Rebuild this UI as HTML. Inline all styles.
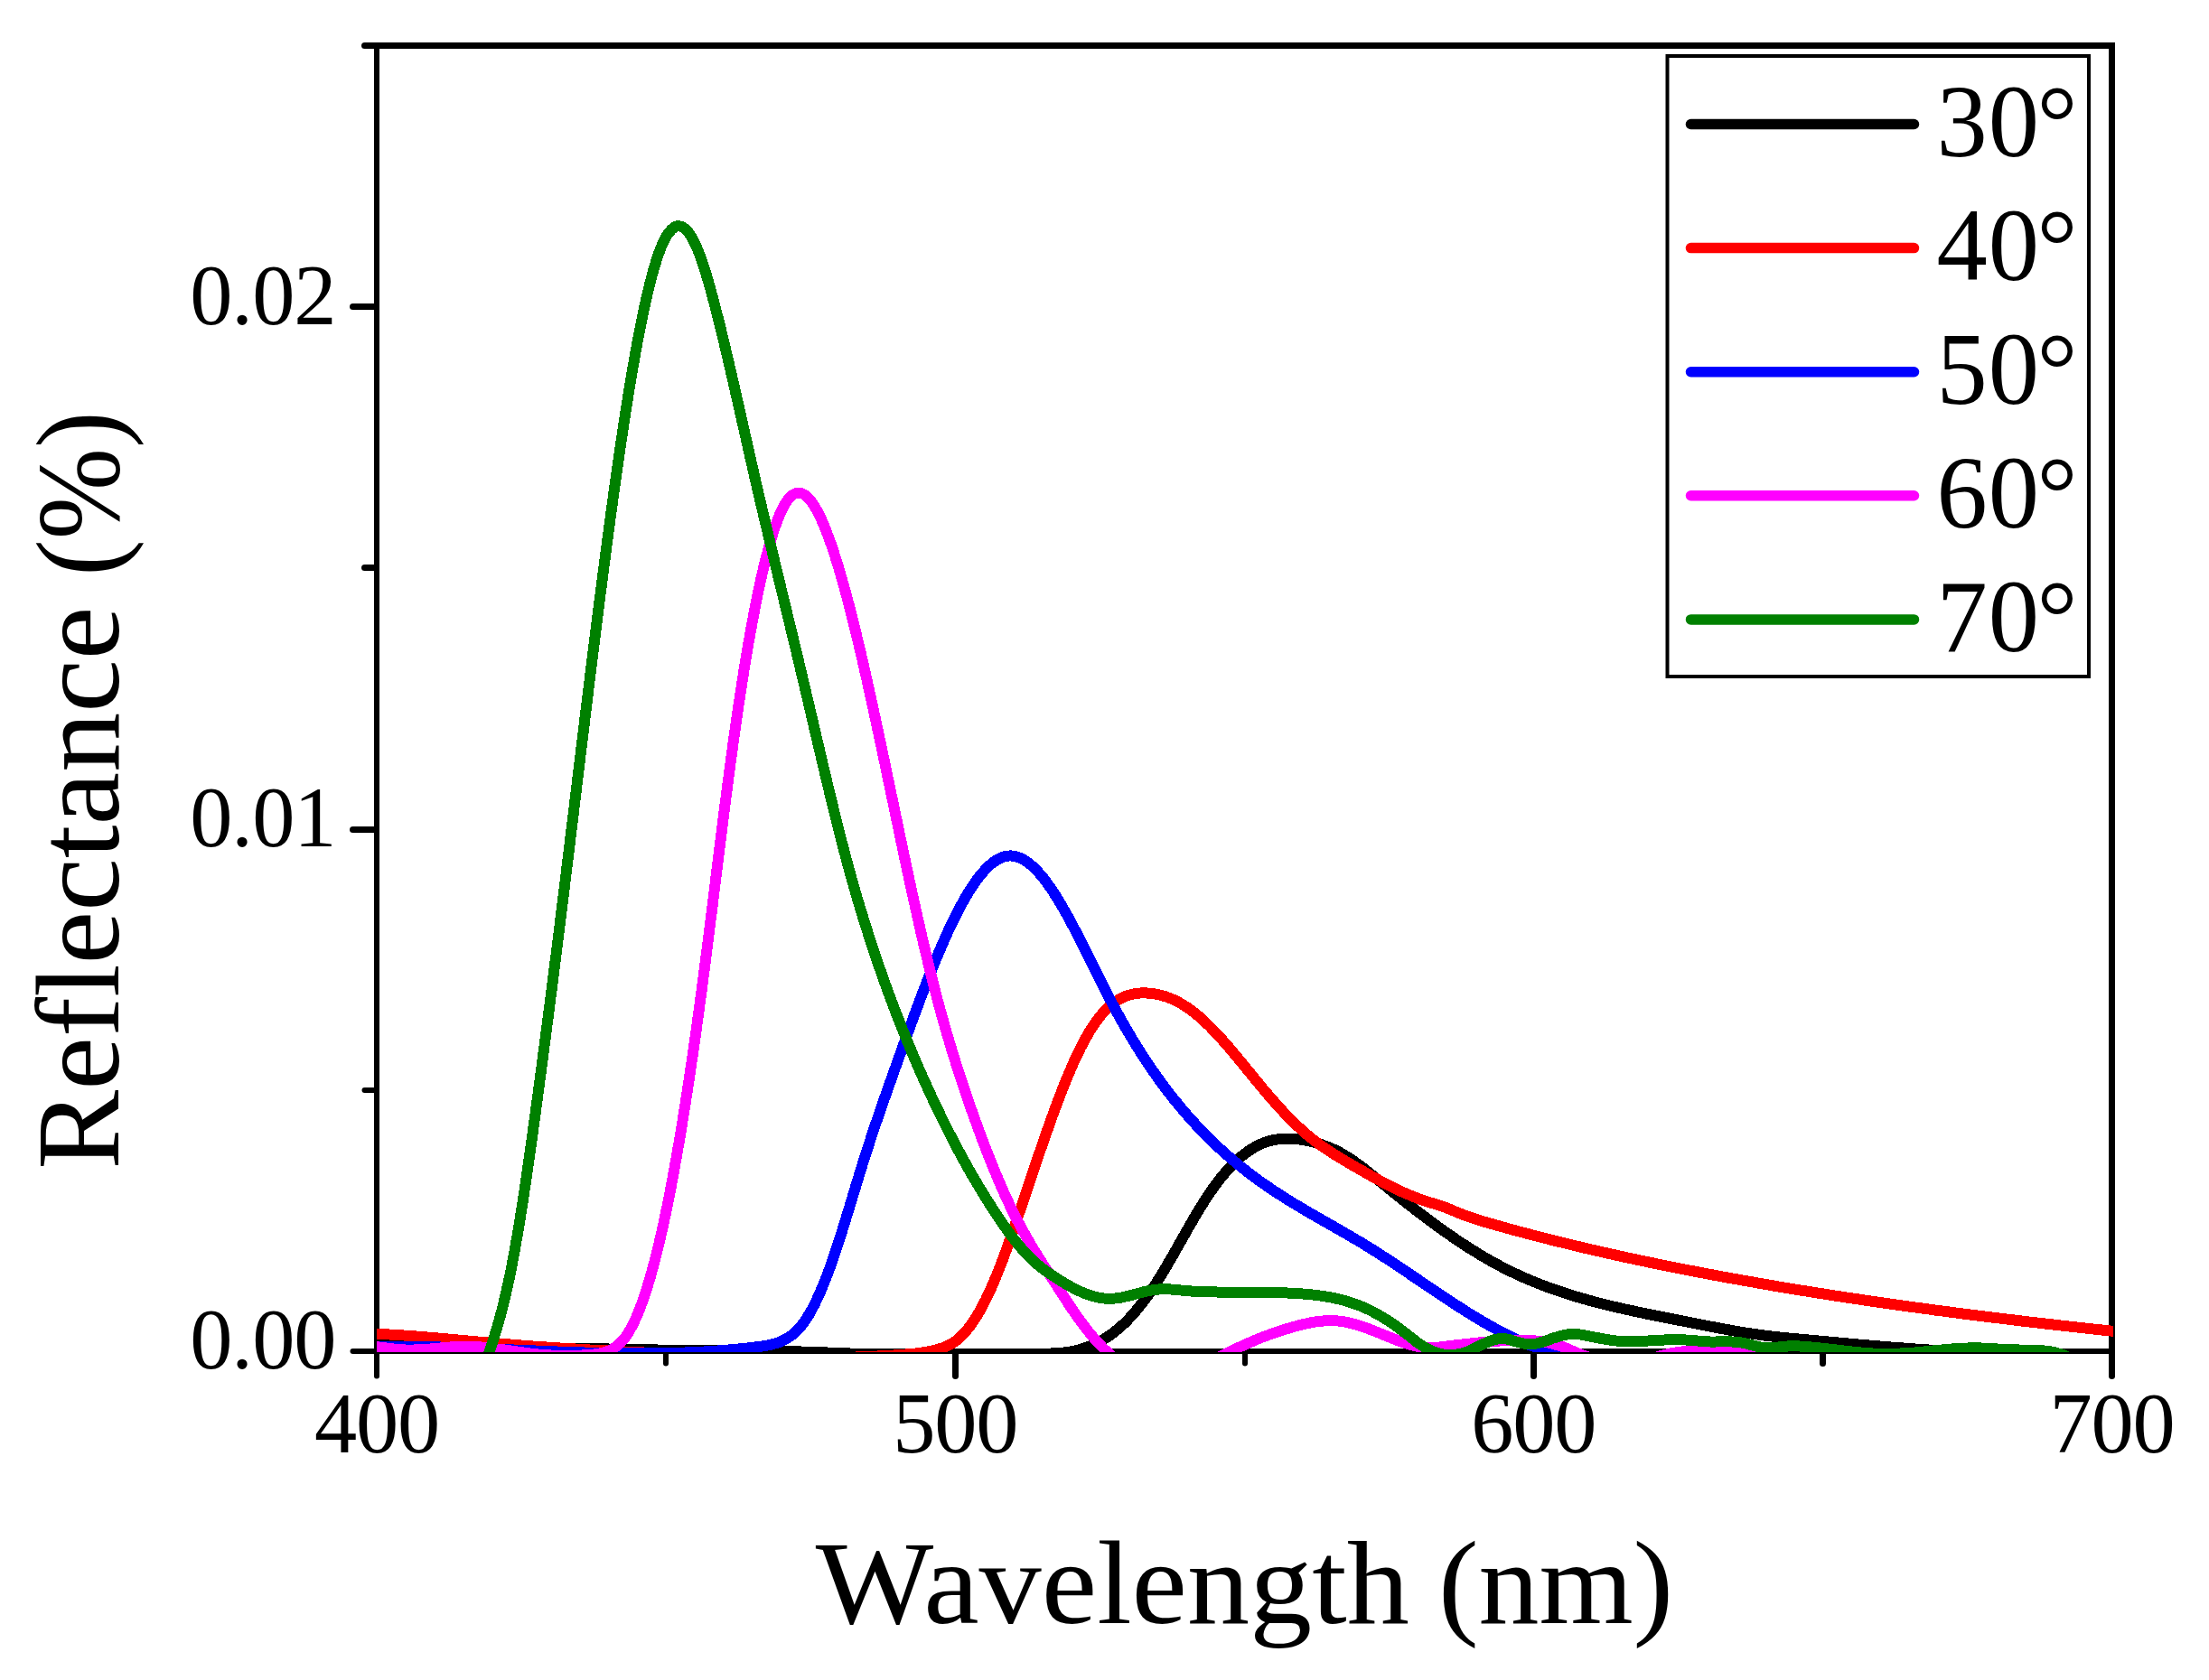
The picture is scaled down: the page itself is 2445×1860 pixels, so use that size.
<!DOCTYPE html>
<html lang="en"><head><meta charset="utf-8"><title>Reflectance vs Wavelength</title>
<style>html,body{margin:0;padding:0;background:#fff}body{width:2445px;height:1860px;overflow:hidden}svg{display:block}text{font-family:'Liberation Serif', 'DejaVu Serif', serif;fill:#000}</style>
</head><body>
<svg width="2445" height="1860" viewBox="0 0 2445 1860">
<rect x="0" y="0" width="2445" height="1860" fill="#fff"/>
<defs><clipPath id="plot"><rect x="417" y="40" width="1922" height="1457"/></clipPath></defs>
<g stroke="#000" fill="none" stroke-linecap="butt">
<line x1="417" y1="47" x2="417" y2="1499" stroke-width="6"/>
<line x1="2337.5" y1="47" x2="2337.5" y2="1499" stroke-width="7"/>
<line x1="414" y1="50.5" x2="2341" y2="50.5" stroke-width="7"/>
<line x1="414" y1="1496" x2="2341" y2="1496" stroke-width="6"/>
</g>
<g stroke="#000" fill="none" stroke-linecap="round">
<line x1="417.0" y1="1497" x2="417.0" y2="1523.5" stroke-width="6"/>
<line x1="1057.5" y1="1497" x2="1057.5" y2="1523.5" stroke-width="7"/>
<line x1="1697.5" y1="1497" x2="1697.5" y2="1523.5" stroke-width="7"/>
<line x1="2337.5" y1="1497" x2="2337.5" y2="1523.5" stroke-width="7"/>
<line x1="737.0" y1="1496" x2="737.0" y2="1509.5" stroke-width="6"/>
<line x1="1378.0" y1="1496" x2="1378.0" y2="1509.5" stroke-width="6"/>
<line x1="2017.5" y1="1496" x2="2017.5" y2="1509.5" stroke-width="7"/>
<line x1="415.5" y1="1496.0" x2="390.5" y2="1496.0" stroke-width="6"/>
<line x1="415.5" y1="918.5" x2="390.5" y2="918.5" stroke-width="7"/>
<line x1="415.5" y1="339.5" x2="390.5" y2="339.5" stroke-width="7"/>
<line x1="415.5" y1="1207.0" x2="403.5" y2="1207.0" stroke-width="6"/>
<line x1="415.5" y1="628.5" x2="403.5" y2="628.5" stroke-width="7"/>
<line x1="415.5" y1="50.5" x2="403.5" y2="50.5" stroke-width="7"/>
</g>
<g clip-path="url(#plot)" shape-rendering="crispEdges" fill="none" stroke-width="12.0" stroke-linejoin="round" stroke-linecap="butt">
<path stroke="#000000" d="M410.0 1478.6 L413.0 1478.6 L416.0 1478.7 L419.0 1478.8 L422.0 1479.0 L425.0 1479.1 L428.0 1479.2 L431.0 1479.4 L434.0 1479.6 L437.0 1479.7 L440.0 1479.9 L443.0 1480.1 L446.0 1480.3 L449.0 1480.6 L452.0 1480.8 L455.0 1481.0 L458.0 1481.2 L461.0 1481.5 L464.0 1481.7 L467.0 1482.0 L470.0 1482.3 L473.0 1482.5 L476.0 1482.8 L479.0 1483.1 L482.0 1483.4 L485.0 1483.6 L488.0 1483.9 L491.0 1484.2 L494.0 1484.5 L497.0 1484.8 L500.0 1485.1 L503.0 1485.4 L506.0 1485.7 L509.0 1486.0 L512.0 1486.2 L515.0 1486.5 L518.0 1486.8 L521.0 1487.1 L524.0 1487.4 L527.0 1487.7 L530.0 1487.9 L533.0 1488.2 L536.0 1488.4 L539.0 1488.7 L542.0 1489.0 L545.0 1489.2 L548.0 1489.4 L551.0 1489.7 L554.0 1489.9 L557.0 1490.1 L560.0 1490.3 L563.0 1490.5 L566.0 1490.7 L569.0 1490.8 L572.0 1491.0 L575.0 1491.2 L578.0 1491.3 L581.0 1491.5 L584.0 1491.6 L587.0 1491.7 L590.0 1491.8 L593.0 1491.9 L596.0 1492.1 L599.0 1492.2 L602.0 1492.2 L605.0 1492.3 L608.0 1492.4 L611.0 1492.5 L614.0 1492.6 L617.0 1492.6 L620.0 1492.7 L623.0 1492.8 L626.0 1492.8 L629.0 1492.9 L632.0 1492.9 L635.0 1493.0 L638.0 1493.0 L641.0 1493.1 L644.0 1493.1 L647.0 1493.2 L650.0 1493.2 L653.0 1493.2 L656.0 1493.3 L659.0 1493.3 L662.0 1493.3 L665.0 1493.4 L668.0 1493.4 L671.0 1493.4 L674.0 1493.5 L677.0 1493.5 L680.0 1493.6 L683.0 1493.6 L686.0 1493.6 L689.0 1493.7 L692.0 1493.7 L695.0 1493.8 L698.0 1493.8 L701.0 1493.9 L704.0 1494.0 L707.0 1494.0 L710.0 1494.1 L713.0 1494.2 L716.0 1494.2 L719.0 1494.3 L722.0 1494.4 L725.0 1494.4 L728.0 1494.5 L731.0 1494.6 L734.0 1494.7 L737.0 1494.7 L740.0 1494.8 L743.0 1494.9 L746.0 1494.9 L749.0 1495.0 L752.0 1495.0 L755.0 1495.1 L758.0 1495.1 L761.0 1495.2 L764.0 1495.2 L767.0 1495.3 L770.0 1495.3 L773.0 1495.3 L776.0 1495.3 L779.0 1495.4 L782.0 1495.4 L785.0 1495.4 L788.0 1495.4 L791.0 1495.4 L794.0 1495.4 L797.0 1495.4 L800.0 1495.4 L803.0 1495.5 L806.0 1495.5 L809.0 1495.5 L812.0 1495.5 L815.0 1495.5 L818.0 1495.5 L821.0 1495.5 L824.0 1495.5 L827.0 1495.5 L830.0 1495.5 L833.0 1495.6 L836.0 1495.6 L839.0 1495.6 L842.0 1495.6 L845.0 1495.7 L848.0 1495.7 L851.0 1495.7 L854.0 1495.8 L857.0 1495.8 L860.0 1495.8 L863.0 1495.9 L866.0 1495.9 L869.0 1496.0 L872.0 1496.1 L875.0 1496.1 L878.0 1496.2 L881.0 1496.3 L884.0 1496.4 L887.0 1496.5 L890.0 1496.6 L893.0 1496.7 L896.0 1496.8 L899.0 1496.9 L902.0 1497.0 L905.0 1497.1 L908.0 1497.2 L911.0 1497.3 L914.0 1497.4 L917.0 1497.6 L920.0 1497.7 L923.0 1497.8 L926.0 1497.9 L929.0 1498.1 L932.0 1498.2 L935.0 1498.3 L938.0 1498.4 L941.0 1498.5 L944.0 1498.7 L947.0 1498.8 L950.0 1498.9 L953.0 1499.0 L956.0 1499.1 L959.0 1499.2 L962.0 1499.3 L965.0 1499.4 L968.0 1499.4 L971.0 1499.5 L974.0 1499.6 L977.0 1499.7 L980.0 1499.7 L983.0 1499.8 L986.0 1499.8 L989.0 1499.9 L992.0 1499.9 L995.0 1500.0 L998.0 1500.0 L1001.0 1500.1 L1004.0 1500.1 L1007.0 1500.1 L1010.0 1500.2 L1013.0 1500.2 L1016.0 1500.2 L1019.0 1500.2 L1022.0 1500.2 L1025.0 1500.2 L1028.0 1500.2 L1031.0 1500.2 L1034.0 1500.2 L1037.0 1500.2 L1040.0 1500.2 L1043.0 1500.2 L1046.0 1500.2 L1049.0 1500.2 L1052.0 1500.2 L1055.0 1500.2 L1058.0 1500.1 L1061.0 1500.1 L1064.0 1500.1 L1067.0 1500.1 L1070.0 1500.0 L1073.0 1500.0 L1076.0 1500.0 L1079.0 1499.9 L1082.0 1499.9 L1085.0 1499.9 L1088.0 1499.8 L1091.0 1499.8 L1094.0 1499.7 L1097.0 1499.7 L1100.0 1499.7 L1103.0 1499.6 L1106.0 1499.6 L1109.0 1499.5 L1112.0 1499.5 L1115.0 1499.4 L1118.0 1499.4 L1121.0 1499.3 L1124.0 1499.3 L1127.0 1499.2 L1130.0 1499.2 L1133.0 1499.1 L1136.0 1499.1 L1139.0 1499.0 L1142.0 1499.0 L1145.0 1498.9 L1148.0 1498.9 L1151.0 1498.8 L1154.0 1498.8 L1157.0 1498.7 L1160.0 1498.6 L1163.0 1498.5 L1166.0 1498.4 L1169.0 1498.2 L1172.0 1498.0 L1175.0 1497.8 L1178.0 1497.4 L1181.0 1497.0 L1184.0 1496.6 L1187.0 1496.0 L1190.0 1495.4 L1193.0 1494.7 L1196.0 1493.8 L1199.0 1492.9 L1202.0 1491.9 L1205.0 1490.8 L1208.0 1489.6 L1211.0 1488.3 L1214.0 1486.9 L1217.0 1485.4 L1220.0 1483.7 L1223.0 1481.9 L1226.0 1480.0 L1229.0 1478.0 L1232.0 1475.8 L1235.0 1473.4 L1238.0 1471.0 L1241.0 1468.3 L1244.0 1465.6 L1247.0 1462.6 L1250.0 1459.5 L1253.0 1456.2 L1256.0 1452.8 L1259.0 1449.3 L1262.0 1445.5 L1265.0 1441.7 L1268.0 1437.7 L1271.0 1433.5 L1274.0 1429.2 L1277.0 1424.7 L1280.0 1420.1 L1283.0 1415.4 L1286.0 1410.5 L1289.0 1405.5 L1292.0 1400.4 L1295.0 1395.3 L1298.0 1390.1 L1301.0 1384.8 L1304.0 1379.5 L1307.0 1374.2 L1310.0 1368.9 L1313.0 1363.6 L1316.0 1358.3 L1319.0 1353.1 L1322.0 1347.9 L1325.0 1342.9 L1328.0 1337.9 L1331.0 1333.1 L1334.0 1328.3 L1337.0 1323.8 L1340.0 1319.4 L1343.0 1315.1 L1346.0 1311.0 L1349.0 1307.0 L1352.0 1303.2 L1355.0 1299.6 L1358.0 1296.1 L1361.0 1292.8 L1364.0 1289.7 L1367.0 1286.7 L1370.0 1283.9 L1373.0 1281.2 L1376.0 1278.7 L1379.0 1276.4 L1382.0 1274.3 L1385.0 1272.3 L1388.0 1270.5 L1391.0 1268.8 L1394.0 1267.4 L1397.0 1266.0 L1400.0 1264.9 L1403.0 1263.9 L1406.0 1263.0 L1409.0 1262.3 L1412.0 1261.7 L1415.0 1261.2 L1418.0 1260.9 L1421.0 1260.7 L1424.0 1260.6 L1427.0 1260.6 L1430.0 1260.7 L1433.0 1260.9 L1436.0 1261.2 L1439.0 1261.6 L1442.0 1262.1 L1445.0 1262.6 L1448.0 1263.2 L1451.0 1263.9 L1454.0 1264.7 L1457.0 1265.5 L1460.0 1266.4 L1463.0 1267.3 L1466.0 1268.4 L1469.0 1269.5 L1472.0 1270.7 L1475.0 1272.0 L1478.0 1273.4 L1481.0 1274.9 L1484.0 1276.5 L1487.0 1278.2 L1490.0 1280.0 L1493.0 1281.9 L1496.0 1283.9 L1499.0 1286.0 L1502.0 1288.1 L1505.0 1290.3 L1508.0 1292.6 L1511.0 1294.9 L1514.0 1297.2 L1517.0 1299.6 L1520.0 1302.0 L1523.0 1304.5 L1526.0 1306.9 L1529.0 1309.3 L1532.0 1311.8 L1535.0 1314.2 L1538.0 1316.7 L1541.0 1319.1 L1544.0 1321.5 L1547.0 1323.9 L1550.0 1326.3 L1553.0 1328.7 L1556.0 1331.1 L1559.0 1333.4 L1562.0 1335.8 L1565.0 1338.1 L1568.0 1340.4 L1571.0 1342.7 L1574.0 1345.0 L1577.0 1347.3 L1580.0 1349.5 L1583.0 1351.8 L1586.0 1354.0 L1589.0 1356.2 L1592.0 1358.4 L1595.0 1360.5 L1598.0 1362.7 L1601.0 1364.8 L1604.0 1366.9 L1607.0 1369.0 L1610.0 1371.0 L1613.0 1373.1 L1616.0 1375.1 L1619.0 1377.1 L1622.0 1379.0 L1625.0 1381.0 L1628.0 1382.9 L1631.0 1384.8 L1634.0 1386.6 L1637.0 1388.5 L1640.0 1390.3 L1643.0 1392.0 L1646.0 1393.8 L1649.0 1395.5 L1652.0 1397.2 L1655.0 1398.8 L1658.0 1400.4 L1661.0 1402.0 L1664.0 1403.6 L1667.0 1405.1 L1670.0 1406.6 L1673.0 1408.1 L1676.0 1409.5 L1679.0 1410.9 L1682.0 1412.3 L1685.0 1413.7 L1688.0 1415.0 L1691.0 1416.3 L1694.0 1417.6 L1697.0 1418.8 L1700.0 1420.0 L1703.0 1421.2 L1706.0 1422.4 L1709.0 1423.6 L1712.0 1424.7 L1715.0 1425.8 L1718.0 1426.9 L1721.0 1427.9 L1724.0 1429.0 L1727.0 1430.0 L1730.0 1431.0 L1733.0 1432.0 L1736.0 1432.9 L1739.0 1433.9 L1742.0 1434.8 L1745.0 1435.7 L1748.0 1436.6 L1751.0 1437.5 L1754.0 1438.3 L1757.0 1439.2 L1760.0 1440.0 L1763.0 1440.8 L1766.0 1441.6 L1769.0 1442.4 L1772.0 1443.2 L1775.0 1443.9 L1778.0 1444.7 L1781.0 1445.4 L1784.0 1446.1 L1787.0 1446.8 L1790.0 1447.5 L1793.0 1448.2 L1796.0 1448.9 L1799.0 1449.6 L1802.0 1450.2 L1805.0 1450.9 L1808.0 1451.5 L1811.0 1452.2 L1814.0 1452.8 L1817.0 1453.4 L1820.0 1454.1 L1823.0 1454.7 L1826.0 1455.3 L1829.0 1455.9 L1832.0 1456.5 L1835.0 1457.1 L1838.0 1457.7 L1841.0 1458.3 L1844.0 1458.9 L1847.0 1459.5 L1850.0 1460.1 L1853.0 1460.7 L1856.0 1461.3 L1859.0 1461.9 L1862.0 1462.4 L1865.0 1463.0 L1868.0 1463.6 L1871.0 1464.2 L1874.0 1464.8 L1877.0 1465.4 L1880.0 1466.0 L1883.0 1466.6 L1886.0 1467.2 L1889.0 1467.8 L1892.0 1468.4 L1895.0 1469.0 L1898.0 1469.5 L1901.0 1470.1 L1904.0 1470.7 L1907.0 1471.2 L1910.0 1471.8 L1913.0 1472.3 L1916.0 1472.9 L1919.0 1473.4 L1922.0 1473.9 L1925.0 1474.4 L1928.0 1474.9 L1931.0 1475.4 L1934.0 1475.9 L1937.0 1476.3 L1940.0 1476.8 L1943.0 1477.2 L1946.0 1477.6 L1949.0 1478.0 L1952.0 1478.4 L1955.0 1478.8 L1958.0 1479.1 L1961.0 1479.5 L1964.0 1479.8 L1967.0 1480.2 L1970.0 1480.5 L1973.0 1480.8 L1976.0 1481.1 L1979.0 1481.4 L1982.0 1481.7 L1985.0 1482.0 L1988.0 1482.2 L1991.0 1482.5 L1994.0 1482.8 L1997.0 1483.1 L2000.0 1483.3 L2003.0 1483.6 L2006.0 1483.9 L2009.0 1484.2 L2012.0 1484.4 L2015.0 1484.7 L2018.0 1485.0 L2021.0 1485.2 L2024.0 1485.5 L2027.0 1485.8 L2030.0 1486.1 L2033.0 1486.3 L2036.0 1486.6 L2039.0 1486.9 L2042.0 1487.1 L2045.0 1487.4 L2048.0 1487.7 L2051.0 1487.9 L2054.0 1488.2 L2057.0 1488.5 L2060.0 1488.7 L2063.0 1489.0 L2066.0 1489.2 L2069.0 1489.5 L2072.0 1489.7 L2075.0 1490.0 L2078.0 1490.2 L2081.0 1490.5 L2084.0 1490.7 L2087.0 1491.0 L2090.0 1491.2 L2093.0 1491.5 L2096.0 1491.7 L2099.0 1491.9 L2102.0 1492.2 L2105.0 1492.4 L2108.0 1492.6 L2111.0 1492.8 L2114.0 1493.1 L2117.0 1493.3 L2120.0 1493.5 L2123.0 1493.7 L2126.0 1493.9 L2129.0 1494.1 L2132.0 1494.3 L2135.0 1494.5 L2138.0 1494.7 L2141.0 1494.9 L2144.0 1495.1 L2147.0 1495.3 L2150.0 1495.5 L2153.0 1495.6 L2156.0 1495.8 L2159.0 1496.0 L2162.0 1496.1 L2165.0 1496.3 L2168.0 1496.4 L2171.0 1496.6 L2174.0 1496.7 L2177.0 1496.9 L2180.0 1497.0 L2183.0 1497.1 L2186.0 1497.3 L2189.0 1497.4 L2192.0 1497.5 L2195.0 1497.6 L2198.0 1497.7 L2201.0 1497.8 L2204.0 1497.9 L2207.0 1498.0 L2210.0 1498.1 L2213.0 1498.2 L2216.0 1498.2 L2219.0 1498.3 L2222.0 1498.4 L2225.0 1498.4 L2228.0 1498.5 L2231.0 1498.6 L2234.0 1498.6 L2237.0 1498.7 L2240.0 1498.7 L2243.0 1498.7 L2246.0 1498.8 L2249.0 1498.8 L2252.0 1498.9 L2255.0 1498.9 L2258.0 1498.9 L2261.0 1499.0 L2264.0 1499.0 L2267.0 1499.0 L2270.0 1499.0 L2273.0 1499.1 L2276.0 1499.1 L2279.0 1499.1 L2282.0 1499.1 L2285.0 1499.2 L2288.0 1499.2 L2291.0 1499.2 L2294.0 1499.2 L2297.0 1499.3 L2300.0 1499.3 L2303.0 1499.3 L2306.0 1499.4 L2309.0 1499.4 L2312.0 1499.4 L2315.0 1499.5 L2318.0 1499.5 L2321.0 1499.6 L2324.0 1499.6 L2327.0 1499.7 L2330.0 1499.7 L2333.0 1499.8 L2336.0 1499.8 L2339.0 1499.9 L2342.0 1499.9 L2345.0 1500.0"/>
<path stroke="#ff0000" d="M410.0 1476.5 L413.0 1476.6 L416.0 1476.7 L419.0 1476.9 L422.0 1477.0 L425.0 1477.2 L428.0 1477.3 L431.0 1477.5 L434.0 1477.7 L437.0 1477.9 L440.0 1478.0 L443.0 1478.2 L446.0 1478.4 L449.0 1478.7 L452.0 1478.9 L455.0 1479.1 L458.0 1479.3 L461.0 1479.5 L464.0 1479.8 L467.0 1480.0 L470.0 1480.3 L473.0 1480.5 L476.0 1480.8 L479.0 1481.0 L482.0 1481.3 L485.0 1481.5 L488.0 1481.8 L491.0 1482.1 L494.0 1482.3 L497.0 1482.6 L500.0 1482.9 L503.0 1483.1 L506.0 1483.4 L509.0 1483.7 L512.0 1483.9 L515.0 1484.2 L518.0 1484.5 L521.0 1484.8 L524.0 1485.0 L527.0 1485.3 L530.0 1485.6 L533.0 1485.8 L536.0 1486.1 L539.0 1486.4 L542.0 1486.6 L545.0 1486.9 L548.0 1487.2 L551.0 1487.4 L554.0 1487.7 L557.0 1487.9 L560.0 1488.2 L563.0 1488.4 L566.0 1488.6 L569.0 1488.9 L572.0 1489.1 L575.0 1489.3 L578.0 1489.6 L581.0 1489.8 L584.0 1490.0 L587.0 1490.2 L590.0 1490.5 L593.0 1490.7 L596.0 1490.9 L599.0 1491.1 L602.0 1491.3 L605.0 1491.5 L608.0 1491.7 L611.0 1491.9 L614.0 1492.1 L617.0 1492.3 L620.0 1492.5 L623.0 1492.7 L626.0 1492.9 L629.0 1493.1 L632.0 1493.2 L635.0 1493.4 L638.0 1493.6 L641.0 1493.8 L644.0 1493.9 L647.0 1494.1 L650.0 1494.3 L653.0 1494.5 L656.0 1494.6 L659.0 1494.8 L662.0 1495.0 L665.0 1495.1 L668.0 1495.3 L671.0 1495.4 L674.0 1495.6 L677.0 1495.7 L680.0 1495.9 L683.0 1496.0 L686.0 1496.2 L689.0 1496.3 L692.0 1496.5 L695.0 1496.6 L698.0 1496.8 L701.0 1496.9 L704.0 1497.1 L707.0 1497.2 L710.0 1497.4 L713.0 1497.5 L716.0 1497.6 L719.0 1497.8 L722.0 1497.9 L725.0 1498.0 L728.0 1498.2 L731.0 1498.3 L734.0 1498.4 L737.0 1498.6 L740.0 1498.7 L743.0 1498.8 L746.0 1499.0 L749.0 1499.1 L752.0 1499.2 L755.0 1499.3 L758.0 1499.5 L761.0 1499.6 L764.0 1499.7 L767.0 1499.8 L770.0 1500.0 L773.0 1500.1 L776.0 1500.2 L779.0 1500.3 L782.0 1500.5 L785.0 1500.6 L788.0 1500.7 L791.0 1500.8 L794.0 1500.9 L797.0 1501.1 L800.0 1501.2 L803.0 1501.3 L806.0 1501.4 L809.0 1501.5 L812.0 1501.6 L815.0 1501.7 L818.0 1501.8 L821.0 1501.9 L824.0 1502.0 L827.0 1502.1 L830.0 1502.2 L833.0 1502.3 L836.0 1502.4 L839.0 1502.4 L842.0 1502.5 L845.0 1502.6 L848.0 1502.7 L851.0 1502.7 L854.0 1502.8 L857.0 1502.9 L860.0 1502.9 L863.0 1503.0 L866.0 1503.0 L869.0 1503.1 L872.0 1503.1 L875.0 1503.2 L878.0 1503.2 L881.0 1503.2 L884.0 1503.2 L887.0 1503.3 L890.0 1503.3 L893.0 1503.3 L896.0 1503.3 L899.0 1503.3 L902.0 1503.3 L905.0 1503.3 L908.0 1503.3 L911.0 1503.2 L914.0 1503.2 L917.0 1503.2 L920.0 1503.1 L923.0 1503.1 L926.0 1503.1 L929.0 1503.0 L932.0 1502.9 L935.0 1502.9 L938.0 1502.8 L941.0 1502.7 L944.0 1502.6 L947.0 1502.5 L950.0 1502.4 L953.0 1502.3 L956.0 1502.2 L959.0 1502.1 L962.0 1502.0 L965.0 1501.8 L968.0 1501.7 L971.0 1501.5 L974.0 1501.4 L977.0 1501.2 L980.0 1501.0 L983.0 1500.9 L986.0 1500.7 L989.0 1500.5 L992.0 1500.3 L995.0 1500.0 L998.0 1499.8 L1001.0 1499.6 L1004.0 1499.3 L1007.0 1499.1 L1010.0 1498.8 L1013.0 1498.5 L1016.0 1498.1 L1019.0 1497.8 L1022.0 1497.3 L1025.0 1496.8 L1028.0 1496.3 L1031.0 1495.7 L1034.0 1495.0 L1037.0 1494.2 L1040.0 1493.3 L1043.0 1492.4 L1046.0 1491.2 L1049.0 1489.9 L1052.0 1488.4 L1055.0 1486.6 L1058.0 1484.5 L1061.0 1482.1 L1064.0 1479.3 L1067.0 1476.2 L1070.0 1472.8 L1073.0 1469.0 L1076.0 1464.9 L1079.0 1460.4 L1082.0 1455.6 L1085.0 1450.4 L1088.0 1444.9 L1091.0 1439.0 L1094.0 1432.8 L1097.0 1426.2 L1100.0 1419.3 L1103.0 1412.1 L1106.0 1404.6 L1109.0 1396.8 L1112.0 1388.8 L1115.0 1380.5 L1118.0 1372.1 L1121.0 1363.5 L1124.0 1354.8 L1127.0 1346.0 L1130.0 1337.2 L1133.0 1328.3 L1136.0 1319.4 L1139.0 1310.4 L1142.0 1301.5 L1145.0 1292.6 L1148.0 1283.8 L1151.0 1275.0 L1154.0 1266.2 L1157.0 1257.6 L1160.0 1249.1 L1163.0 1240.6 L1166.0 1232.4 L1169.0 1224.2 L1172.0 1216.2 L1175.0 1208.4 L1178.0 1200.8 L1181.0 1193.4 L1184.0 1186.3 L1187.0 1179.3 L1190.0 1172.7 L1193.0 1166.3 L1196.0 1160.1 L1199.0 1154.3 L1202.0 1148.8 L1205.0 1143.6 L1208.0 1138.8 L1211.0 1134.2 L1214.0 1129.9 L1217.0 1126.0 L1220.0 1122.3 L1223.0 1119.0 L1226.0 1116.0 L1229.0 1113.3 L1232.0 1110.9 L1235.0 1108.7 L1238.0 1106.8 L1241.0 1105.1 L1244.0 1103.7 L1247.0 1102.5 L1250.0 1101.6 L1253.0 1100.8 L1256.0 1100.2 L1259.0 1099.8 L1262.0 1099.5 L1265.0 1099.4 L1268.0 1099.4 L1271.0 1099.6 L1274.0 1099.8 L1277.0 1100.2 L1280.0 1100.7 L1283.0 1101.4 L1286.0 1102.1 L1289.0 1103.0 L1292.0 1104.0 L1295.0 1105.2 L1298.0 1106.4 L1301.0 1107.8 L1304.0 1109.3 L1307.0 1111.0 L1310.0 1112.8 L1313.0 1114.7 L1316.0 1116.7 L1319.0 1118.9 L1322.0 1121.2 L1325.0 1123.6 L1328.0 1126.2 L1331.0 1128.8 L1334.0 1131.6 L1337.0 1134.5 L1340.0 1137.5 L1343.0 1140.6 L1346.0 1143.8 L1349.0 1147.0 L1352.0 1150.3 L1355.0 1153.7 L1358.0 1157.1 L1361.0 1160.6 L1364.0 1164.2 L1367.0 1167.8 L1370.0 1171.4 L1373.0 1175.0 L1376.0 1178.7 L1379.0 1182.3 L1382.0 1186.0 L1385.0 1189.7 L1388.0 1193.4 L1391.0 1197.0 L1394.0 1200.7 L1397.0 1204.3 L1400.0 1207.9 L1403.0 1211.4 L1406.0 1214.9 L1409.0 1218.3 L1412.0 1221.7 L1415.0 1225.1 L1418.0 1228.3 L1421.0 1231.6 L1424.0 1234.7 L1427.0 1237.8 L1430.0 1240.8 L1433.0 1243.7 L1436.0 1246.6 L1439.0 1249.4 L1442.0 1252.1 L1445.0 1254.8 L1448.0 1257.3 L1451.0 1259.8 L1454.0 1262.2 L1457.0 1264.5 L1460.0 1266.7 L1463.0 1268.8 L1466.0 1270.9 L1469.0 1272.9 L1472.0 1274.9 L1475.0 1276.8 L1478.0 1278.7 L1481.0 1280.6 L1484.0 1282.4 L1487.0 1284.2 L1490.0 1286.0 L1493.0 1287.7 L1496.0 1289.5 L1499.0 1291.2 L1502.0 1293.0 L1505.0 1294.7 L1508.0 1296.4 L1511.0 1298.1 L1514.0 1299.8 L1517.0 1301.5 L1520.0 1303.2 L1523.0 1304.8 L1526.0 1306.5 L1529.0 1308.1 L1532.0 1309.7 L1535.0 1311.2 L1538.0 1312.8 L1541.0 1314.3 L1544.0 1315.7 L1547.0 1317.2 L1550.0 1318.6 L1553.0 1320.0 L1556.0 1321.3 L1559.0 1322.6 L1562.0 1323.9 L1565.0 1325.1 L1568.0 1326.3 L1571.0 1327.4 L1574.0 1328.4 L1577.0 1329.5 L1580.0 1330.4 L1583.0 1331.4 L1586.0 1332.3 L1589.0 1333.2 L1592.0 1334.1 L1595.0 1335.1 L1598.0 1336.1 L1601.0 1337.3 L1604.0 1338.5 L1607.0 1339.7 L1610.0 1341.0 L1613.0 1342.2 L1616.0 1343.5 L1619.0 1344.7 L1622.0 1345.8 L1625.0 1346.9 L1628.0 1348.0 L1631.0 1349.0 L1634.0 1350.0 L1637.0 1350.9 L1640.0 1351.8 L1643.0 1352.7 L1646.0 1353.6 L1649.0 1354.5 L1652.0 1355.3 L1655.0 1356.2 L1658.0 1357.0 L1661.0 1357.9 L1664.0 1358.7 L1667.0 1359.5 L1670.0 1360.4 L1673.0 1361.2 L1676.0 1362.0 L1679.0 1362.8 L1682.0 1363.6 L1685.0 1364.4 L1688.0 1365.2 L1691.0 1366.0 L1694.0 1366.8 L1697.0 1367.6 L1700.0 1368.4 L1703.0 1369.1 L1706.0 1369.9 L1709.0 1370.7 L1712.0 1371.4 L1715.0 1372.2 L1718.0 1373.0 L1721.0 1373.7 L1724.0 1374.5 L1727.0 1375.2 L1730.0 1375.9 L1733.0 1376.7 L1736.0 1377.4 L1739.0 1378.1 L1742.0 1378.9 L1745.0 1379.6 L1748.0 1380.3 L1751.0 1381.0 L1754.0 1381.7 L1757.0 1382.4 L1760.0 1383.1 L1763.0 1383.8 L1766.0 1384.5 L1769.0 1385.2 L1772.0 1385.9 L1775.0 1386.6 L1778.0 1387.3 L1781.0 1387.9 L1784.0 1388.6 L1787.0 1389.3 L1790.0 1389.9 L1793.0 1390.6 L1796.0 1391.3 L1799.0 1391.9 L1802.0 1392.6 L1805.0 1393.2 L1808.0 1393.9 L1811.0 1394.5 L1814.0 1395.2 L1817.0 1395.8 L1820.0 1396.4 L1823.0 1397.1 L1826.0 1397.7 L1829.0 1398.3 L1832.0 1398.9 L1835.0 1399.6 L1838.0 1400.2 L1841.0 1400.8 L1844.0 1401.4 L1847.0 1402.0 L1850.0 1402.6 L1853.0 1403.2 L1856.0 1403.8 L1859.0 1404.4 L1862.0 1405.0 L1865.0 1405.6 L1868.0 1406.2 L1871.0 1406.7 L1874.0 1407.3 L1877.0 1407.9 L1880.0 1408.5 L1883.0 1409.1 L1886.0 1409.6 L1889.0 1410.2 L1892.0 1410.8 L1895.0 1411.3 L1898.0 1411.9 L1901.0 1412.5 L1904.0 1413.0 L1907.0 1413.6 L1910.0 1414.1 L1913.0 1414.7 L1916.0 1415.2 L1919.0 1415.8 L1922.0 1416.3 L1925.0 1416.8 L1928.0 1417.4 L1931.0 1417.9 L1934.0 1418.4 L1937.0 1419.0 L1940.0 1419.5 L1943.0 1420.0 L1946.0 1420.6 L1949.0 1421.1 L1952.0 1421.6 L1955.0 1422.1 L1958.0 1422.6 L1961.0 1423.1 L1964.0 1423.7 L1967.0 1424.2 L1970.0 1424.7 L1973.0 1425.2 L1976.0 1425.7 L1979.0 1426.2 L1982.0 1426.7 L1985.0 1427.2 L1988.0 1427.7 L1991.0 1428.2 L1994.0 1428.7 L1997.0 1429.1 L2000.0 1429.6 L2003.0 1430.1 L2006.0 1430.6 L2009.0 1431.1 L2012.0 1431.6 L2015.0 1432.0 L2018.0 1432.5 L2021.0 1433.0 L2024.0 1433.4 L2027.0 1433.9 L2030.0 1434.4 L2033.0 1434.8 L2036.0 1435.3 L2039.0 1435.8 L2042.0 1436.2 L2045.0 1436.7 L2048.0 1437.1 L2051.0 1437.6 L2054.0 1438.0 L2057.0 1438.5 L2060.0 1438.9 L2063.0 1439.4 L2066.0 1439.8 L2069.0 1440.3 L2072.0 1440.7 L2075.0 1441.1 L2078.0 1441.6 L2081.0 1442.0 L2084.0 1442.4 L2087.0 1442.9 L2090.0 1443.3 L2093.0 1443.7 L2096.0 1444.2 L2099.0 1444.6 L2102.0 1445.0 L2105.0 1445.4 L2108.0 1445.8 L2111.0 1446.3 L2114.0 1446.7 L2117.0 1447.1 L2120.0 1447.5 L2123.0 1447.9 L2126.0 1448.3 L2129.0 1448.7 L2132.0 1449.1 L2135.0 1449.5 L2138.0 1449.9 L2141.0 1450.4 L2144.0 1450.8 L2147.0 1451.1 L2150.0 1451.5 L2153.0 1451.9 L2156.0 1452.3 L2159.0 1452.7 L2162.0 1453.1 L2165.0 1453.5 L2168.0 1453.9 L2171.0 1454.3 L2174.0 1454.7 L2177.0 1455.0 L2180.0 1455.4 L2183.0 1455.8 L2186.0 1456.2 L2189.0 1456.6 L2192.0 1456.9 L2195.0 1457.3 L2198.0 1457.7 L2201.0 1458.1 L2204.0 1458.4 L2207.0 1458.8 L2210.0 1459.2 L2213.0 1459.5 L2216.0 1459.9 L2219.0 1460.3 L2222.0 1460.6 L2225.0 1461.0 L2228.0 1461.3 L2231.0 1461.7 L2234.0 1462.1 L2237.0 1462.4 L2240.0 1462.8 L2243.0 1463.1 L2246.0 1463.5 L2249.0 1463.8 L2252.0 1464.2 L2255.0 1464.5 L2258.0 1464.9 L2261.0 1465.2 L2264.0 1465.6 L2267.0 1465.9 L2270.0 1466.2 L2273.0 1466.6 L2276.0 1466.9 L2279.0 1467.3 L2282.0 1467.6 L2285.0 1467.9 L2288.0 1468.3 L2291.0 1468.6 L2294.0 1468.9 L2297.0 1469.3 L2300.0 1469.6 L2303.0 1469.9 L2306.0 1470.3 L2309.0 1470.6 L2312.0 1470.9 L2315.0 1471.3 L2318.0 1471.6 L2321.0 1471.9 L2324.0 1472.2 L2327.0 1472.6 L2330.0 1472.9 L2333.0 1473.2 L2336.0 1473.5 L2339.0 1473.8 L2342.0 1474.2 L2345.0 1474.5"/>
<path stroke="#0000ff" d="M410.0 1490.9 L413.0 1490.9 L416.0 1490.9 L419.0 1490.8 L422.0 1490.8 L425.0 1490.8 L428.0 1490.7 L431.0 1490.7 L434.0 1490.7 L437.0 1490.7 L440.0 1490.7 L443.0 1490.8 L446.0 1490.8 L449.0 1490.8 L452.0 1490.8 L455.0 1490.9 L458.0 1490.9 L461.0 1490.9 L464.0 1491.0 L467.0 1491.0 L470.0 1491.1 L473.0 1491.1 L476.0 1491.2 L479.0 1491.3 L482.0 1491.4 L485.0 1491.4 L488.0 1491.5 L491.0 1491.6 L494.0 1491.7 L497.0 1491.8 L500.0 1491.9 L503.0 1491.9 L506.0 1492.0 L509.0 1492.1 L512.0 1492.3 L515.0 1492.4 L518.0 1492.5 L521.0 1492.6 L524.0 1492.7 L527.0 1492.8 L530.0 1492.9 L533.0 1493.0 L536.0 1493.2 L539.0 1493.3 L542.0 1493.4 L545.0 1493.5 L548.0 1493.6 L551.0 1493.8 L554.0 1493.9 L557.0 1494.0 L560.0 1494.1 L563.0 1494.3 L566.0 1494.4 L569.0 1494.5 L572.0 1494.7 L575.0 1494.8 L578.0 1494.9 L581.0 1495.0 L584.0 1495.2 L587.0 1495.3 L590.0 1495.4 L593.0 1495.5 L596.0 1495.7 L599.0 1495.8 L602.0 1495.9 L605.0 1496.0 L608.0 1496.2 L611.0 1496.3 L614.0 1496.4 L617.0 1496.5 L620.0 1496.6 L623.0 1496.7 L626.0 1496.8 L629.0 1496.9 L632.0 1497.0 L635.0 1497.1 L638.0 1497.2 L641.0 1497.3 L644.0 1497.4 L647.0 1497.5 L650.0 1497.6 L653.0 1497.7 L656.0 1497.8 L659.0 1497.8 L662.0 1497.9 L665.0 1498.0 L668.0 1498.0 L671.0 1498.1 L674.0 1498.2 L677.0 1498.2 L680.0 1498.2 L683.0 1498.3 L686.0 1498.3 L689.0 1498.4 L692.0 1498.4 L695.0 1498.4 L698.0 1498.4 L701.0 1498.4 L704.0 1498.4 L707.0 1498.4 L710.0 1498.4 L713.0 1498.4 L716.0 1498.4 L719.0 1498.4 L722.0 1498.4 L725.0 1498.3 L728.0 1498.3 L731.0 1498.2 L734.0 1498.2 L737.0 1498.1 L740.0 1498.1 L743.0 1498.0 L746.0 1497.9 L749.0 1497.8 L752.0 1497.7 L755.0 1497.6 L758.0 1497.5 L761.0 1497.4 L764.0 1497.2 L767.0 1497.1 L770.0 1497.0 L773.0 1496.8 L776.0 1496.6 L779.0 1496.5 L782.0 1496.3 L785.0 1496.1 L788.0 1495.9 L791.0 1495.7 L794.0 1495.5 L797.0 1495.3 L800.0 1495.0 L803.0 1494.8 L806.0 1494.5 L809.0 1494.3 L812.0 1494.0 L815.0 1493.7 L818.0 1493.4 L821.0 1493.1 L824.0 1492.8 L827.0 1492.5 L830.0 1492.2 L833.0 1491.8 L836.0 1491.4 L839.0 1491.1 L842.0 1490.7 L845.0 1490.3 L848.0 1489.8 L851.0 1489.2 L854.0 1488.5 L857.0 1487.7 L860.0 1486.8 L863.0 1485.7 L866.0 1484.4 L869.0 1482.9 L872.0 1481.2 L875.0 1479.2 L878.0 1477.0 L881.0 1474.3 L884.0 1471.3 L887.0 1467.8 L890.0 1463.8 L893.0 1459.3 L896.0 1454.4 L899.0 1449.0 L902.0 1443.2 L905.0 1436.9 L908.0 1430.2 L911.0 1423.1 L914.0 1415.6 L917.0 1407.7 L920.0 1399.5 L923.0 1390.8 L926.0 1381.9 L929.0 1372.7 L932.0 1363.2 L935.0 1353.5 L938.0 1343.7 L941.0 1333.9 L944.0 1323.9 L947.0 1314.0 L950.0 1304.2 L953.0 1294.4 L956.0 1284.8 L959.0 1275.4 L962.0 1266.1 L965.0 1257.0 L968.0 1248.0 L971.0 1239.1 L974.0 1230.4 L977.0 1221.7 L980.0 1213.1 L983.0 1204.6 L986.0 1196.1 L989.0 1187.6 L992.0 1179.2 L995.0 1170.8 L998.0 1162.4 L1001.0 1154.1 L1004.0 1145.7 L1007.0 1137.5 L1010.0 1129.3 L1013.0 1121.2 L1016.0 1113.1 L1019.0 1105.1 L1022.0 1097.2 L1025.0 1089.5 L1028.0 1081.8 L1031.0 1074.3 L1034.0 1066.9 L1037.0 1059.6 L1040.0 1052.5 L1043.0 1045.5 L1046.0 1038.7 L1049.0 1032.1 L1052.0 1025.6 L1055.0 1019.3 L1058.0 1013.3 L1061.0 1007.4 L1064.0 1001.8 L1067.0 996.4 L1070.0 991.2 L1073.0 986.3 L1076.0 981.6 L1079.0 977.2 L1082.0 973.0 L1085.0 969.2 L1088.0 965.6 L1091.0 962.3 L1094.0 959.3 L1097.0 956.6 L1100.0 954.3 L1103.0 952.3 L1106.0 950.6 L1109.0 949.3 L1112.0 948.3 L1115.0 947.7 L1118.0 947.4 L1121.0 947.6 L1124.0 948.1 L1127.0 949.0 L1130.0 950.2 L1133.0 951.8 L1136.0 953.7 L1139.0 955.9 L1142.0 958.4 L1145.0 961.2 L1148.0 964.2 L1151.0 967.6 L1154.0 971.2 L1157.0 975.0 L1160.0 979.1 L1163.0 983.4 L1166.0 987.9 L1169.0 992.5 L1172.0 997.4 L1175.0 1002.5 L1178.0 1007.7 L1181.0 1013.0 L1184.0 1018.5 L1187.0 1024.1 L1190.0 1029.8 L1193.0 1035.6 L1196.0 1041.5 L1199.0 1047.4 L1202.0 1053.4 L1205.0 1059.4 L1208.0 1065.5 L1211.0 1071.5 L1214.0 1077.5 L1217.0 1083.5 L1220.0 1089.5 L1223.0 1095.5 L1226.0 1101.3 L1229.0 1107.1 L1232.0 1112.8 L1235.0 1118.4 L1238.0 1123.9 L1241.0 1129.3 L1244.0 1134.6 L1247.0 1139.8 L1250.0 1144.9 L1253.0 1150.0 L1256.0 1154.9 L1259.0 1159.7 L1262.0 1164.5 L1265.0 1169.2 L1268.0 1173.8 L1271.0 1178.3 L1274.0 1182.7 L1277.0 1187.0 L1280.0 1191.3 L1283.0 1195.5 L1286.0 1199.6 L1289.0 1203.6 L1292.0 1207.6 L1295.0 1211.5 L1298.0 1215.3 L1301.0 1219.0 L1304.0 1222.7 L1307.0 1226.3 L1310.0 1229.9 L1313.0 1233.3 L1316.0 1236.8 L1319.0 1240.1 L1322.0 1243.4 L1325.0 1246.7 L1328.0 1249.8 L1331.0 1253.0 L1334.0 1256.0 L1337.0 1259.1 L1340.0 1262.0 L1343.0 1264.9 L1346.0 1267.8 L1349.0 1270.6 L1352.0 1273.4 L1355.0 1276.1 L1358.0 1278.7 L1361.0 1281.3 L1364.0 1283.9 L1367.0 1286.4 L1370.0 1288.9 L1373.0 1291.4 L1376.0 1293.8 L1379.0 1296.1 L1382.0 1298.4 L1385.0 1300.7 L1388.0 1303.0 L1391.0 1305.2 L1394.0 1307.4 L1397.0 1309.5 L1400.0 1311.6 L1403.0 1313.7 L1406.0 1315.7 L1409.0 1317.8 L1412.0 1319.7 L1415.0 1321.7 L1418.0 1323.6 L1421.0 1325.6 L1424.0 1327.4 L1427.0 1329.3 L1430.0 1331.2 L1433.0 1333.0 L1436.0 1334.8 L1439.0 1336.6 L1442.0 1338.4 L1445.0 1340.1 L1448.0 1341.9 L1451.0 1343.6 L1454.0 1345.4 L1457.0 1347.1 L1460.0 1348.8 L1463.0 1350.5 L1466.0 1352.2 L1469.0 1353.9 L1472.0 1355.7 L1475.0 1357.4 L1478.0 1359.1 L1481.0 1360.8 L1484.0 1362.5 L1487.0 1364.2 L1490.0 1366.0 L1493.0 1367.7 L1496.0 1369.5 L1499.0 1371.2 L1502.0 1373.0 L1505.0 1374.8 L1508.0 1376.6 L1511.0 1378.4 L1514.0 1380.3 L1517.0 1382.1 L1520.0 1384.0 L1523.0 1385.9 L1526.0 1387.8 L1529.0 1389.8 L1532.0 1391.7 L1535.0 1393.6 L1538.0 1395.6 L1541.0 1397.6 L1544.0 1399.6 L1547.0 1401.6 L1550.0 1403.6 L1553.0 1405.6 L1556.0 1407.6 L1559.0 1409.6 L1562.0 1411.7 L1565.0 1413.7 L1568.0 1415.7 L1571.0 1417.7 L1574.0 1419.8 L1577.0 1421.8 L1580.0 1423.8 L1583.0 1425.9 L1586.0 1427.9 L1589.0 1429.9 L1592.0 1431.9 L1595.0 1433.9 L1598.0 1435.9 L1601.0 1437.9 L1604.0 1439.9 L1607.0 1441.8 L1610.0 1443.8 L1613.0 1445.7 L1616.0 1447.7 L1619.0 1449.6 L1622.0 1451.5 L1625.0 1453.4 L1628.0 1455.2 L1631.0 1457.1 L1634.0 1458.9 L1637.0 1460.7 L1640.0 1462.5 L1643.0 1464.2 L1646.0 1465.9 L1649.0 1467.7 L1652.0 1469.3 L1655.0 1471.0 L1658.0 1472.6 L1661.0 1474.2 L1664.0 1475.8 L1667.0 1477.3 L1670.0 1478.8 L1673.0 1480.3 L1676.0 1481.7 L1679.0 1483.1 L1682.0 1484.5 L1685.0 1485.8 L1688.0 1487.0 L1691.0 1488.3 L1694.0 1489.5 L1697.0 1490.6 L1700.0 1491.7 L1703.0 1492.8 L1706.0 1493.8 L1709.0 1494.7 L1712.0 1495.6 L1715.0 1496.5 L1718.0 1497.2 L1721.0 1498.0 L1724.0 1498.7 L1727.0 1499.3 L1730.0 1499.9 L1733.0 1500.4 L1736.0 1500.9 L1739.0 1501.3 L1742.0 1501.7 L1745.0 1502.0 L1748.0 1502.4 L1751.0 1502.6 L1754.0 1502.9 L1757.0 1503.1 L1760.0 1503.3 L1763.0 1503.4 L1766.0 1503.5 L1769.0 1503.6 L1772.0 1503.7 L1775.0 1503.7 L1778.0 1503.8 L1781.0 1503.8 L1784.0 1503.8 L1787.0 1503.8 L1790.0 1503.8 L1793.0 1503.7 L1796.0 1503.7 L1799.0 1503.7 L1802.0 1503.6 L1805.0 1503.6 L1808.0 1503.6 L1811.0 1503.5 L1814.0 1503.5 L1817.0 1503.5 L1820.0 1503.5 L1823.0 1503.4 L1826.0 1503.4 L1829.0 1503.4 L1832.0 1503.4 L1835.0 1503.4 L1838.0 1503.4 L1841.0 1503.4 L1844.0 1503.3 L1847.0 1503.3 L1850.0 1503.3 L1853.0 1503.3 L1856.0 1503.3 L1859.0 1503.3 L1862.0 1503.3 L1865.0 1503.3 L1868.0 1503.3 L1871.0 1503.3 L1874.0 1503.4 L1877.0 1503.4 L1880.0 1503.4 L1883.0 1503.4 L1886.0 1503.4 L1889.0 1503.4 L1892.0 1503.4 L1895.0 1503.4 L1898.0 1503.5 L1901.0 1503.5 L1904.0 1503.5 L1907.0 1503.5 L1910.0 1503.5 L1913.0 1503.6 L1916.0 1503.6 L1919.0 1503.6 L1922.0 1503.6 L1925.0 1503.7 L1928.0 1503.7 L1931.0 1503.7 L1934.0 1503.7 L1937.0 1503.8 L1940.0 1503.8 L1943.0 1503.8 L1946.0 1503.8 L1949.0 1503.9 L1952.0 1503.9 L1955.0 1503.9 L1958.0 1503.9 L1961.0 1504.0 L1964.0 1504.0 L1967.0 1504.0 L1970.0 1504.0 L1973.0 1504.1 L1976.0 1504.1 L1979.0 1504.1 L1982.0 1504.1 L1985.0 1504.2 L1988.0 1504.2 L1991.0 1504.2 L1994.0 1504.2 L1997.0 1504.3 L2000.0 1504.3 L2003.0 1504.3 L2006.0 1504.3 L2009.0 1504.4 L2012.0 1504.4 L2015.0 1504.4 L2018.0 1504.4 L2021.0 1504.4 L2024.0 1504.5 L2027.0 1504.5 L2030.0 1504.5 L2033.0 1504.5 L2036.0 1504.5 L2039.0 1504.5 L2042.0 1504.6 L2045.0 1504.6 L2048.0 1504.6 L2051.0 1504.6 L2054.0 1504.6 L2057.0 1504.6 L2060.0 1504.7 L2063.0 1504.7 L2066.0 1504.7 L2069.0 1504.7 L2072.0 1504.7 L2075.0 1504.7 L2078.0 1504.7 L2081.0 1504.8 L2084.0 1504.8 L2087.0 1504.8 L2090.0 1504.8 L2093.0 1504.8 L2096.0 1504.8 L2099.0 1504.8 L2102.0 1504.8 L2105.0 1504.9 L2108.0 1504.9 L2111.0 1504.9 L2114.0 1504.9 L2117.0 1504.9 L2120.0 1504.9 L2123.0 1504.9 L2126.0 1504.9 L2129.0 1505.0 L2132.0 1505.0 L2135.0 1505.0 L2138.0 1505.0 L2141.0 1505.0 L2144.0 1505.0 L2147.0 1505.0 L2150.0 1505.0 L2153.0 1505.0 L2156.0 1505.0 L2159.0 1505.1 L2162.0 1505.1 L2165.0 1505.1 L2168.0 1505.1 L2171.0 1505.1 L2174.0 1505.1 L2177.0 1505.1 L2180.0 1505.1 L2183.0 1505.1 L2186.0 1505.2 L2189.0 1505.2 L2192.0 1505.2 L2195.0 1505.2 L2198.0 1505.2 L2201.0 1505.2 L2204.0 1505.2 L2207.0 1505.2 L2210.0 1505.3 L2213.0 1505.3 L2216.0 1505.3 L2219.0 1505.3 L2222.0 1505.3 L2225.0 1505.3 L2228.0 1505.3 L2231.0 1505.3 L2234.0 1505.4 L2237.0 1505.4 L2240.0 1505.4 L2243.0 1505.4 L2246.0 1505.4 L2249.0 1505.4 L2252.0 1505.4 L2255.0 1505.5 L2258.0 1505.5 L2261.0 1505.5 L2264.0 1505.5 L2267.0 1505.5 L2270.0 1505.5 L2273.0 1505.6 L2276.0 1505.6 L2279.0 1505.6 L2282.0 1505.6 L2285.0 1505.6 L2288.0 1505.6 L2291.0 1505.7 L2294.0 1505.7 L2297.0 1505.7 L2300.0 1505.7 L2303.0 1505.7 L2306.0 1505.8 L2309.0 1505.8 L2312.0 1505.8 L2315.0 1505.8 L2318.0 1505.8 L2321.0 1505.9 L2324.0 1505.9 L2327.0 1505.9 L2330.0 1505.9 L2333.0 1506.0 L2336.0 1506.0 L2339.0 1506.0 L2342.0 1506.0 L2345.0 1506.1"/>
<path stroke="#ff00ff" d="M410.0 1490.3 L413.0 1490.7 L416.0 1491.0 L419.0 1491.4 L422.0 1491.8 L425.0 1492.2 L428.0 1492.6 L431.0 1493.0 L434.0 1493.3 L437.0 1493.7 L440.0 1493.9 L443.0 1494.2 L446.0 1494.4 L449.0 1494.5 L452.0 1494.6 L455.0 1494.6 L458.0 1494.5 L461.0 1494.4 L464.0 1494.3 L467.0 1494.1 L470.0 1493.9 L473.0 1493.7 L476.0 1493.5 L479.0 1493.2 L482.0 1492.9 L485.0 1492.7 L488.0 1492.4 L491.0 1492.1 L494.0 1491.8 L497.0 1491.6 L500.0 1491.4 L503.0 1491.2 L506.0 1491.0 L509.0 1490.9 L512.0 1490.8 L515.0 1490.8 L518.0 1490.8 L521.0 1490.9 L524.0 1491.0 L527.0 1491.1 L530.0 1491.3 L533.0 1491.5 L536.0 1491.8 L539.0 1492.1 L542.0 1492.4 L545.0 1492.8 L548.0 1493.1 L551.0 1493.5 L554.0 1493.9 L557.0 1494.3 L560.0 1494.7 L563.0 1495.2 L566.0 1495.6 L569.0 1496.0 L572.0 1496.5 L575.0 1496.9 L578.0 1497.3 L581.0 1497.7 L584.0 1498.1 L587.0 1498.5 L590.0 1498.8 L593.0 1499.1 L596.0 1499.5 L599.0 1499.7 L602.0 1500.0 L605.0 1500.2 L608.0 1500.4 L611.0 1500.6 L614.0 1500.7 L617.0 1500.8 L620.0 1500.9 L623.0 1500.9 L626.0 1501.0 L629.0 1500.9 L632.0 1500.9 L635.0 1500.9 L638.0 1500.8 L641.0 1500.7 L644.0 1500.5 L647.0 1500.4 L650.0 1500.2 L653.0 1500.0 L656.0 1499.7 L659.0 1499.3 L662.0 1498.9 L665.0 1498.3 L668.0 1497.6 L671.0 1496.7 L674.0 1495.6 L677.0 1494.2 L680.0 1492.4 L683.0 1490.1 L686.0 1487.5 L689.0 1484.3 L692.0 1480.6 L695.0 1476.2 L698.0 1471.1 L701.0 1465.4 L704.0 1459.0 L707.0 1451.9 L710.0 1444.1 L713.0 1435.6 L716.0 1426.4 L719.0 1416.5 L722.0 1405.9 L725.0 1394.6 L728.0 1382.7 L731.0 1370.0 L734.0 1356.7 L737.0 1342.6 L740.0 1327.9 L743.0 1312.5 L746.0 1296.4 L749.0 1279.7 L752.0 1262.3 L755.0 1244.2 L758.0 1225.6 L761.0 1206.3 L764.0 1186.4 L767.0 1166.0 L770.0 1144.9 L773.0 1123.3 L776.0 1101.1 L779.0 1078.3 L782.0 1055.0 L785.0 1031.3 L788.0 1007.3 L791.0 983.1 L794.0 958.9 L797.0 934.7 L800.0 910.7 L803.0 887.0 L806.0 863.8 L809.0 841.2 L812.0 819.3 L815.0 798.1 L818.0 777.6 L821.0 757.9 L824.0 738.9 L827.0 720.8 L830.0 703.4 L833.0 686.9 L836.0 671.2 L839.0 656.3 L842.0 642.3 L845.0 629.2 L848.0 617.0 L851.0 605.7 L854.0 595.3 L857.0 585.9 L860.0 577.4 L863.0 569.9 L866.0 563.4 L869.0 557.9 L872.0 553.4 L875.0 549.9 L878.0 547.5 L881.0 546.1 L884.0 545.7 L887.0 546.1 L890.0 547.5 L893.0 549.7 L896.0 552.8 L899.0 556.7 L902.0 561.3 L905.0 566.6 L908.0 572.6 L911.0 579.3 L914.0 586.6 L917.0 594.5 L920.0 602.9 L923.0 611.8 L926.0 621.2 L929.0 631.1 L932.0 641.5 L935.0 652.2 L938.0 663.4 L941.0 674.9 L944.0 686.7 L947.0 698.9 L950.0 711.4 L953.0 724.2 L956.0 737.2 L959.0 750.5 L962.0 764.0 L965.0 777.7 L968.0 791.5 L971.0 805.5 L974.0 819.6 L977.0 833.8 L980.0 848.1 L983.0 862.5 L986.0 876.9 L989.0 891.2 L992.0 905.6 L995.0 920.0 L998.0 934.3 L1001.0 948.5 L1004.0 962.6 L1007.0 976.5 L1010.0 990.4 L1013.0 1004.0 L1016.0 1017.5 L1019.0 1030.7 L1022.0 1043.7 L1025.0 1056.5 L1028.0 1068.9 L1031.0 1081.1 L1034.0 1092.9 L1037.0 1104.4 L1040.0 1115.6 L1043.0 1126.5 L1046.0 1137.1 L1049.0 1147.5 L1052.0 1157.6 L1055.0 1167.5 L1058.0 1177.1 L1061.0 1186.6 L1064.0 1195.8 L1067.0 1204.8 L1070.0 1213.7 L1073.0 1222.3 L1076.0 1230.9 L1079.0 1239.3 L1082.0 1247.5 L1085.0 1255.7 L1088.0 1263.7 L1091.0 1271.5 L1094.0 1279.2 L1097.0 1286.8 L1100.0 1294.2 L1103.0 1301.5 L1106.0 1308.5 L1109.0 1315.4 L1112.0 1322.2 L1115.0 1328.7 L1118.0 1335.1 L1121.0 1341.2 L1124.0 1347.2 L1127.0 1353.0 L1130.0 1358.6 L1133.0 1364.1 L1136.0 1369.4 L1139.0 1374.6 L1142.0 1379.7 L1145.0 1384.7 L1148.0 1389.6 L1151.0 1394.4 L1154.0 1399.2 L1157.0 1403.9 L1160.0 1408.5 L1163.0 1413.1 L1166.0 1417.8 L1169.0 1422.4 L1172.0 1427.0 L1175.0 1431.7 L1178.0 1436.3 L1181.0 1440.9 L1184.0 1445.5 L1187.0 1450.0 L1190.0 1454.3 L1193.0 1458.6 L1196.0 1462.7 L1199.0 1466.8 L1202.0 1470.7 L1205.0 1474.5 L1208.0 1478.1 L1211.0 1481.7 L1214.0 1485.1 L1217.0 1488.4 L1220.0 1491.5 L1223.0 1494.5 L1226.0 1497.3 L1229.0 1500.0 L1232.0 1502.6 L1235.0 1505.0 L1238.0 1507.2 L1241.0 1509.3 L1244.0 1511.2 L1247.0 1513.0 L1250.0 1514.6 L1253.0 1516.0 L1256.0 1517.3 L1259.0 1518.4 L1262.0 1519.4 L1265.0 1520.2 L1268.0 1520.9 L1271.0 1521.5 L1274.0 1521.9 L1277.0 1522.2 L1280.0 1522.4 L1283.0 1522.5 L1286.0 1522.4 L1289.0 1522.2 L1292.0 1522.0 L1295.0 1521.6 L1298.0 1521.1 L1301.0 1520.6 L1304.0 1519.9 L1307.0 1519.2 L1310.0 1518.4 L1313.0 1517.5 L1316.0 1516.5 L1319.0 1515.5 L1322.0 1514.4 L1325.0 1513.3 L1328.0 1512.1 L1331.0 1510.8 L1334.0 1509.5 L1337.0 1508.2 L1340.0 1506.9 L1343.0 1505.5 L1346.0 1504.1 L1349.0 1502.6 L1352.0 1501.2 L1355.0 1499.7 L1358.0 1498.3 L1361.0 1496.8 L1364.0 1495.3 L1367.0 1493.9 L1370.0 1492.4 L1373.0 1491.0 L1376.0 1489.6 L1379.0 1488.2 L1382.0 1486.9 L1385.0 1485.6 L1388.0 1484.3 L1391.0 1483.0 L1394.0 1481.8 L1397.0 1480.6 L1400.0 1479.5 L1403.0 1478.4 L1406.0 1477.3 L1409.0 1476.2 L1412.0 1475.2 L1415.0 1474.2 L1418.0 1473.2 L1421.0 1472.2 L1424.0 1471.3 L1427.0 1470.4 L1430.0 1469.5 L1433.0 1468.7 L1436.0 1467.8 L1439.0 1467.0 L1442.0 1466.3 L1445.0 1465.6 L1448.0 1464.9 L1451.0 1464.3 L1454.0 1463.8 L1457.0 1463.3 L1460.0 1462.9 L1463.0 1462.6 L1466.0 1462.4 L1469.0 1462.2 L1472.0 1462.1 L1475.0 1462.2 L1478.0 1462.3 L1481.0 1462.5 L1484.0 1462.9 L1487.0 1463.3 L1490.0 1463.8 L1493.0 1464.5 L1496.0 1465.2 L1499.0 1466.0 L1502.0 1466.9 L1505.0 1467.8 L1508.0 1468.8 L1511.0 1469.8 L1514.0 1470.9 L1517.0 1472.1 L1520.0 1473.2 L1523.0 1474.4 L1526.0 1475.6 L1529.0 1476.8 L1532.0 1478.1 L1535.0 1479.3 L1538.0 1480.5 L1541.0 1481.7 L1544.0 1482.9 L1547.0 1484.1 L1550.0 1485.2 L1553.0 1486.3 L1556.0 1487.3 L1559.0 1488.3 L1562.0 1489.1 L1565.0 1489.9 L1568.0 1490.6 L1571.0 1491.2 L1574.0 1491.7 L1577.0 1492.0 L1580.0 1492.2 L1583.0 1492.2 L1586.0 1492.1 L1589.0 1491.9 L1592.0 1491.7 L1595.0 1491.3 L1598.0 1491.0 L1601.0 1490.6 L1604.0 1490.2 L1607.0 1489.8 L1610.0 1489.4 L1613.0 1489.1 L1616.0 1488.7 L1619.0 1488.4 L1622.0 1488.0 L1625.0 1487.7 L1628.0 1487.4 L1631.0 1487.0 L1634.0 1486.7 L1637.0 1486.4 L1640.0 1486.1 L1643.0 1485.8 L1646.0 1485.6 L1649.0 1485.3 L1652.0 1485.1 L1655.0 1484.8 L1658.0 1484.6 L1661.0 1484.4 L1664.0 1484.2 L1667.0 1484.0 L1670.0 1483.9 L1673.0 1483.8 L1676.0 1483.7 L1679.0 1483.6 L1682.0 1483.6 L1685.0 1483.6 L1688.0 1483.7 L1691.0 1483.8 L1694.0 1484.0 L1697.0 1484.2 L1700.0 1484.5 L1703.0 1484.8 L1706.0 1485.2 L1709.0 1485.7 L1712.0 1486.2 L1715.0 1486.9 L1718.0 1487.6 L1721.0 1488.4 L1724.0 1489.3 L1727.0 1490.2 L1730.0 1491.3 L1733.0 1492.5 L1736.0 1493.7 L1739.0 1495.0 L1742.0 1496.3 L1745.0 1497.6 L1748.0 1498.9 L1751.0 1500.1 L1754.0 1501.2 L1757.0 1502.2 L1760.0 1503.0 L1763.0 1503.7 L1766.0 1504.3 L1769.0 1504.7 L1772.0 1505.1 L1775.0 1505.4 L1778.0 1505.7 L1781.0 1505.9 L1784.0 1506.0 L1787.0 1506.2 L1790.0 1506.4 L1793.0 1506.5 L1796.0 1506.6 L1799.0 1506.7 L1802.0 1506.7 L1805.0 1506.7 L1808.0 1506.6 L1811.0 1506.5 L1814.0 1506.2 L1817.0 1505.9 L1820.0 1505.5 L1823.0 1505.0 L1826.0 1504.3 L1829.0 1503.7 L1832.0 1502.9 L1835.0 1502.1 L1838.0 1501.3 L1841.0 1500.5 L1844.0 1499.8 L1847.0 1499.0 L1850.0 1498.3 L1853.0 1497.8 L1856.0 1497.2 L1859.0 1496.8 L1862.0 1496.4 L1865.0 1496.1 L1868.0 1495.9 L1871.0 1495.6 L1874.0 1495.4 L1877.0 1495.2 L1880.0 1495.0 L1883.0 1494.9 L1886.0 1494.8 L1889.0 1494.7 L1892.0 1494.7 L1895.0 1494.6 L1898.0 1494.7 L1901.0 1494.7 L1904.0 1494.8 L1907.0 1494.9 L1910.0 1495.1 L1913.0 1495.3 L1916.0 1495.6 L1919.0 1495.9 L1922.0 1496.2 L1925.0 1496.6 L1928.0 1497.0 L1931.0 1497.5 L1934.0 1498.0 L1937.0 1498.5 L1940.0 1499.1 L1943.0 1499.8 L1946.0 1500.5 L1949.0 1501.3 L1952.0 1502.0 L1955.0 1502.8 L1958.0 1503.5 L1961.0 1504.2 L1964.0 1504.8 L1967.0 1505.3 L1970.0 1505.7 L1973.0 1506.0 L1976.0 1506.2 L1979.0 1506.4 L1982.0 1506.4 L1985.0 1506.4 L1988.0 1506.4 L1991.0 1506.3 L1994.0 1506.2 L1997.0 1506.0 L2000.0 1505.8 L2003.0 1505.7 L2006.0 1505.5 L2009.0 1505.3 L2012.0 1505.2 L2015.0 1505.1 L2018.0 1505.0 L2021.0 1504.9 L2024.0 1504.8 L2027.0 1504.8 L2030.0 1504.8 L2033.0 1504.8 L2036.0 1504.8 L2039.0 1504.9 L2042.0 1504.9 L2045.0 1504.9 L2048.0 1505.0 L2051.0 1505.1 L2054.0 1505.1 L2057.0 1505.2 L2060.0 1505.2 L2063.0 1505.3 L2066.0 1505.3 L2069.0 1505.3 L2072.0 1505.3 L2075.0 1505.4 L2078.0 1505.4 L2081.0 1505.4 L2084.0 1505.4 L2087.0 1505.4 L2090.0 1505.4 L2093.0 1505.4 L2096.0 1505.4 L2099.0 1505.4 L2102.0 1505.4 L2105.0 1505.4 L2108.0 1505.4 L2111.0 1505.4 L2114.0 1505.4 L2117.0 1505.4 L2120.0 1505.4 L2123.0 1505.4 L2126.0 1505.4 L2129.0 1505.4 L2132.0 1505.4 L2135.0 1505.4 L2138.0 1505.5 L2141.0 1505.5 L2144.0 1505.5 L2147.0 1505.5 L2150.0 1505.5 L2153.0 1505.5 L2156.0 1505.5 L2159.0 1505.5 L2162.0 1505.5 L2165.0 1505.5 L2168.0 1505.5 L2171.0 1505.5 L2174.0 1505.5 L2177.0 1505.5 L2180.0 1505.5 L2183.0 1505.5 L2186.0 1505.6 L2189.0 1505.6 L2192.0 1505.6 L2195.0 1505.6 L2198.0 1505.6 L2201.0 1505.6 L2204.0 1505.6 L2207.0 1505.6 L2210.0 1505.6 L2213.0 1505.6 L2216.0 1505.6 L2219.0 1505.7 L2222.0 1505.7 L2225.0 1505.7 L2228.0 1505.7 L2231.0 1505.7 L2234.0 1505.7 L2237.0 1505.7 L2240.0 1505.7 L2243.0 1505.7 L2246.0 1505.7 L2249.0 1505.8 L2252.0 1505.8 L2255.0 1505.8 L2258.0 1505.8 L2261.0 1505.8 L2264.0 1505.8 L2267.0 1505.8 L2270.0 1505.8 L2273.0 1505.8 L2276.0 1505.8 L2279.0 1505.8 L2282.0 1505.9 L2285.0 1505.9 L2288.0 1505.9 L2291.0 1505.9 L2294.0 1505.9 L2297.0 1505.9 L2300.0 1505.9 L2303.0 1505.9 L2306.0 1505.9 L2309.0 1505.9 L2312.0 1505.9 L2315.0 1505.9 L2318.0 1505.9 L2321.0 1506.0 L2324.0 1506.0 L2327.0 1506.0 L2330.0 1506.0 L2333.0 1506.0 L2336.0 1506.0 L2339.0 1506.0 L2342.0 1506.0 L2345.0 1506.0"/>
<path stroke="#008000" d="M528.0 1531.1 L531.0 1524.0 L534.0 1516.6 L537.0 1509.0 L540.0 1500.9 L543.0 1492.5 L546.0 1483.4 L549.0 1473.8 L552.0 1463.4 L555.0 1452.3 L558.0 1440.4 L561.0 1427.5 L564.0 1413.7 L567.0 1398.7 L570.0 1382.6 L573.0 1365.4 L576.0 1347.2 L579.0 1328.1 L582.0 1308.1 L585.0 1287.5 L588.0 1266.2 L591.0 1244.4 L594.0 1222.3 L597.0 1199.8 L600.0 1177.2 L603.0 1154.4 L606.0 1131.4 L609.0 1108.2 L612.0 1084.7 L615.0 1061.0 L618.0 1037.1 L621.0 1012.9 L624.0 988.5 L627.0 964.0 L630.0 939.4 L633.0 914.7 L636.0 889.9 L639.0 865.1 L642.0 840.3 L645.0 815.5 L648.0 790.9 L651.0 766.3 L654.0 741.9 L657.0 717.7 L660.0 693.7 L663.0 669.9 L666.0 646.4 L669.0 623.2 L672.0 600.3 L675.0 577.8 L678.0 555.7 L681.0 534.1 L684.0 513.0 L687.0 492.3 L690.0 472.2 L693.0 452.7 L696.0 433.9 L699.0 415.7 L702.0 398.3 L705.0 381.6 L708.0 365.7 L711.0 350.7 L714.0 336.6 L717.0 323.4 L720.0 311.2 L723.0 300.1 L726.0 290.0 L729.0 280.9 L732.0 273.1 L735.0 266.4 L738.0 260.9 L741.0 256.6 L744.0 253.4 L747.0 251.3 L750.0 250.3 L753.0 250.5 L756.0 251.7 L759.0 254.0 L762.0 257.4 L765.0 261.8 L768.0 267.2 L771.0 273.6 L774.0 281.0 L777.0 289.3 L780.0 298.4 L783.0 308.3 L786.0 318.8 L789.0 329.8 L792.0 341.3 L795.0 353.1 L798.0 365.2 L801.0 377.6 L804.0 390.3 L807.0 403.1 L810.0 416.1 L813.0 429.2 L816.0 442.4 L819.0 455.7 L822.0 469.1 L825.0 482.4 L828.0 495.8 L831.0 509.1 L834.0 522.3 L837.0 535.4 L840.0 548.3 L843.0 561.2 L846.0 573.9 L849.0 586.6 L852.0 599.2 L855.0 611.8 L858.0 624.3 L861.0 636.7 L864.0 649.1 L867.0 661.5 L870.0 674.0 L873.0 686.4 L876.0 698.8 L879.0 711.3 L882.0 723.8 L885.0 736.4 L888.0 749.1 L891.0 761.8 L894.0 774.6 L897.0 787.4 L900.0 800.3 L903.0 813.2 L906.0 826.0 L909.0 838.8 L912.0 851.5 L915.0 864.2 L918.0 876.7 L921.0 889.1 L924.0 901.4 L927.0 913.5 L930.0 925.4 L933.0 937.1 L936.0 948.5 L939.0 959.7 L942.0 970.6 L945.0 981.3 L948.0 991.6 L951.0 1001.8 L954.0 1011.7 L957.0 1021.4 L960.0 1030.9 L963.0 1040.2 L966.0 1049.4 L969.0 1058.4 L972.0 1067.2 L975.0 1075.9 L978.0 1084.4 L981.0 1092.7 L984.0 1100.9 L987.0 1109.0 L990.0 1116.9 L993.0 1124.7 L996.0 1132.4 L999.0 1139.9 L1002.0 1147.3 L1005.0 1154.6 L1008.0 1161.8 L1011.0 1168.9 L1014.0 1175.9 L1017.0 1182.9 L1020.0 1189.7 L1023.0 1196.4 L1026.0 1203.0 L1029.0 1209.6 L1032.0 1216.0 L1035.0 1222.4 L1038.0 1228.7 L1041.0 1234.9 L1044.0 1241.0 L1047.0 1247.0 L1050.0 1253.0 L1053.0 1258.8 L1056.0 1264.6 L1059.0 1270.3 L1062.0 1275.9 L1065.0 1281.4 L1068.0 1286.9 L1071.0 1292.3 L1074.0 1297.5 L1077.0 1302.8 L1080.0 1307.9 L1083.0 1313.0 L1086.0 1317.9 L1089.0 1322.8 L1092.0 1327.7 L1095.0 1332.4 L1098.0 1337.1 L1101.0 1341.7 L1104.0 1346.3 L1107.0 1350.7 L1110.0 1355.1 L1113.0 1359.4 L1116.0 1363.5 L1119.0 1367.6 L1122.0 1371.5 L1125.0 1375.3 L1128.0 1379.0 L1131.0 1382.6 L1134.0 1385.9 L1137.0 1389.2 L1140.0 1392.3 L1143.0 1395.2 L1146.0 1397.9 L1149.0 1400.5 L1152.0 1402.9 L1155.0 1405.2 L1158.0 1407.4 L1161.0 1409.5 L1164.0 1411.5 L1167.0 1413.5 L1170.0 1415.5 L1173.0 1417.4 L1176.0 1419.3 L1179.0 1421.1 L1182.0 1422.9 L1185.0 1424.5 L1188.0 1426.1 L1191.0 1427.7 L1194.0 1429.1 L1197.0 1430.5 L1200.0 1431.7 L1203.0 1432.9 L1206.0 1433.9 L1209.0 1434.9 L1212.0 1435.7 L1215.0 1436.4 L1218.0 1436.9 L1221.0 1437.4 L1224.0 1437.7 L1227.0 1437.8 L1230.0 1437.8 L1233.0 1437.6 L1236.0 1437.3 L1239.0 1436.9 L1242.0 1436.4 L1245.0 1435.7 L1248.0 1435.0 L1251.0 1434.3 L1254.0 1433.5 L1257.0 1432.7 L1260.0 1431.9 L1263.0 1431.1 L1266.0 1430.3 L1269.0 1429.6 L1272.0 1429.0 L1275.0 1428.4 L1278.0 1428.0 L1281.0 1427.6 L1284.0 1427.4 L1287.0 1427.3 L1290.0 1427.3 L1293.0 1427.4 L1296.0 1427.5 L1299.0 1427.7 L1302.0 1428.0 L1305.0 1428.3 L1308.0 1428.6 L1311.0 1428.8 L1314.0 1429.1 L1317.0 1429.4 L1320.0 1429.6 L1323.0 1429.8 L1326.0 1429.9 L1329.0 1430.1 L1332.0 1430.2 L1335.0 1430.3 L1338.0 1430.3 L1341.0 1430.4 L1344.0 1430.4 L1347.0 1430.5 L1350.0 1430.5 L1353.0 1430.5 L1356.0 1430.6 L1359.0 1430.6 L1362.0 1430.6 L1365.0 1430.6 L1368.0 1430.6 L1371.0 1430.6 L1374.0 1430.6 L1377.0 1430.6 L1380.0 1430.6 L1383.0 1430.6 L1386.0 1430.7 L1389.0 1430.7 L1392.0 1430.7 L1395.0 1430.7 L1398.0 1430.8 L1401.0 1430.8 L1404.0 1430.8 L1407.0 1430.9 L1410.0 1431.0 L1413.0 1431.0 L1416.0 1431.1 L1419.0 1431.2 L1422.0 1431.3 L1425.0 1431.5 L1428.0 1431.6 L1431.0 1431.8 L1434.0 1431.9 L1437.0 1432.1 L1440.0 1432.3 L1443.0 1432.6 L1446.0 1432.8 L1449.0 1433.1 L1452.0 1433.4 L1455.0 1433.7 L1458.0 1434.1 L1461.0 1434.5 L1464.0 1434.9 L1467.0 1435.4 L1470.0 1435.9 L1473.0 1436.4 L1476.0 1437.0 L1479.0 1437.7 L1482.0 1438.4 L1485.0 1439.1 L1488.0 1439.9 L1491.0 1440.8 L1494.0 1441.7 L1497.0 1442.7 L1500.0 1443.7 L1503.0 1444.8 L1506.0 1446.0 L1509.0 1447.3 L1512.0 1448.6 L1515.0 1450.0 L1518.0 1451.5 L1521.0 1453.1 L1524.0 1454.7 L1527.0 1456.4 L1530.0 1458.2 L1533.0 1460.0 L1536.0 1461.9 L1539.0 1463.9 L1542.0 1465.9 L1545.0 1468.0 L1548.0 1470.2 L1551.0 1472.4 L1554.0 1474.7 L1557.0 1477.0 L1560.0 1479.4 L1563.0 1481.8 L1566.0 1484.1 L1569.0 1486.4 L1572.0 1488.6 L1575.0 1490.5 L1578.0 1492.3 L1581.0 1493.9 L1584.0 1495.3 L1587.0 1496.6 L1590.0 1497.6 L1593.0 1498.5 L1596.0 1499.2 L1599.0 1499.7 L1602.0 1500.0 L1605.0 1500.1 L1608.0 1500.0 L1611.0 1499.7 L1614.0 1499.3 L1617.0 1498.7 L1620.0 1497.8 L1623.0 1496.8 L1626.0 1495.6 L1629.0 1494.3 L1632.0 1492.8 L1635.0 1491.4 L1638.0 1489.9 L1641.0 1488.4 L1644.0 1487.0 L1647.0 1485.7 L1650.0 1484.5 L1653.0 1483.5 L1656.0 1482.7 L1659.0 1482.2 L1662.0 1482.0 L1665.0 1482.2 L1668.0 1482.6 L1671.0 1483.3 L1674.0 1484.2 L1677.0 1485.1 L1680.0 1485.9 L1683.0 1486.7 L1686.0 1487.4 L1689.0 1487.9 L1692.0 1488.2 L1695.0 1488.2 L1698.0 1487.9 L1701.0 1487.4 L1704.0 1486.6 L1707.0 1485.7 L1710.0 1484.7 L1713.0 1483.7 L1716.0 1482.7 L1719.0 1481.6 L1722.0 1480.7 L1725.0 1479.7 L1728.0 1478.9 L1731.0 1478.2 L1734.0 1477.6 L1737.0 1477.2 L1740.0 1477.0 L1743.0 1477.0 L1746.0 1477.2 L1749.0 1477.5 L1752.0 1478.0 L1755.0 1478.6 L1758.0 1479.2 L1761.0 1479.8 L1764.0 1480.4 L1767.0 1481.0 L1770.0 1481.5 L1773.0 1482.1 L1776.0 1482.6 L1779.0 1483.2 L1782.0 1483.6 L1785.0 1484.0 L1788.0 1484.4 L1791.0 1484.7 L1794.0 1485.0 L1797.0 1485.2 L1800.0 1485.3 L1803.0 1485.3 L1806.0 1485.3 L1809.0 1485.3 L1812.0 1485.2 L1815.0 1485.0 L1818.0 1484.8 L1821.0 1484.7 L1824.0 1484.5 L1827.0 1484.3 L1830.0 1484.1 L1833.0 1483.9 L1836.0 1483.8 L1839.0 1483.6 L1842.0 1483.5 L1845.0 1483.4 L1848.0 1483.3 L1851.0 1483.2 L1854.0 1483.2 L1857.0 1483.2 L1860.0 1483.3 L1863.0 1483.4 L1866.0 1483.5 L1869.0 1483.7 L1872.0 1483.9 L1875.0 1484.1 L1878.0 1484.4 L1881.0 1484.7 L1884.0 1485.0 L1887.0 1485.2 L1890.0 1485.4 L1893.0 1485.5 L1896.0 1485.5 L1899.0 1485.5 L1902.0 1485.4 L1905.0 1485.4 L1908.0 1485.3 L1911.0 1485.3 L1914.0 1485.4 L1917.0 1485.5 L1920.0 1485.6 L1923.0 1485.9 L1926.0 1486.3 L1929.0 1486.8 L1932.0 1487.4 L1935.0 1488.2 L1938.0 1489.0 L1941.0 1489.8 L1944.0 1490.5 L1947.0 1491.2 L1950.0 1491.8 L1953.0 1492.2 L1956.0 1492.3 L1959.0 1492.3 L1962.0 1492.2 L1965.0 1491.9 L1968.0 1491.6 L1971.0 1491.2 L1974.0 1490.9 L1977.0 1490.6 L1980.0 1490.4 L1983.0 1490.3 L1986.0 1490.3 L1989.0 1490.3 L1992.0 1490.5 L1995.0 1490.6 L1998.0 1490.8 L2001.0 1491.1 L2004.0 1491.4 L2007.0 1491.7 L2010.0 1492.0 L2013.0 1492.3 L2016.0 1492.6 L2019.0 1492.9 L2022.0 1493.3 L2025.0 1493.6 L2028.0 1494.0 L2031.0 1494.3 L2034.0 1494.7 L2037.0 1495.1 L2040.0 1495.4 L2043.0 1495.8 L2046.0 1496.1 L2049.0 1496.4 L2052.0 1496.7 L2055.0 1497.0 L2058.0 1497.3 L2061.0 1497.6 L2064.0 1497.9 L2067.0 1498.1 L2070.0 1498.3 L2073.0 1498.5 L2076.0 1498.6 L2079.0 1498.7 L2082.0 1498.8 L2085.0 1498.9 L2088.0 1498.9 L2091.0 1498.9 L2094.0 1498.8 L2097.0 1498.8 L2100.0 1498.7 L2103.0 1498.5 L2106.0 1498.4 L2109.0 1498.2 L2112.0 1498.0 L2115.0 1497.8 L2118.0 1497.6 L2121.0 1497.3 L2124.0 1497.0 L2127.0 1496.7 L2130.0 1496.4 L2133.0 1496.1 L2136.0 1495.8 L2139.0 1495.5 L2142.0 1495.2 L2145.0 1494.9 L2148.0 1494.6 L2151.0 1494.3 L2154.0 1494.0 L2157.0 1493.8 L2160.0 1493.5 L2163.0 1493.3 L2166.0 1493.1 L2169.0 1492.9 L2172.0 1492.7 L2175.0 1492.6 L2178.0 1492.5 L2181.0 1492.4 L2184.0 1492.4 L2187.0 1492.4 L2190.0 1492.4 L2193.0 1492.5 L2196.0 1492.6 L2199.0 1492.8 L2202.0 1492.9 L2205.0 1493.1 L2208.0 1493.3 L2211.0 1493.5 L2214.0 1493.7 L2217.0 1493.9 L2220.0 1494.0 L2223.0 1494.2 L2226.0 1494.3 L2229.0 1494.4 L2232.0 1494.4 L2235.0 1494.5 L2238.0 1494.5 L2241.0 1494.5 L2244.0 1494.5 L2247.0 1494.6 L2250.0 1494.6 L2253.0 1494.7 L2256.0 1494.9 L2259.0 1495.1 L2262.0 1495.4 L2265.0 1495.7 L2268.0 1496.1 L2271.0 1496.7 L2274.0 1497.3 L2277.0 1498.1 L2280.0 1498.9 L2283.0 1499.9 L2286.0 1501.1 L2289.0 1502.4 L2292.0 1503.9 L2295.0 1505.5 L2298.0 1507.1 L2301.0 1508.8 L2304.0 1510.5 L2307.0 1512.1 L2310.0 1513.6 L2313.0 1515.0 L2316.0 1516.2 L2319.0 1517.2 L2322.0 1517.9 L2325.0 1518.3 L2328.0 1518.3 L2331.0 1518.0 L2334.0 1517.2 L2337.0 1516.0 L2340.0 1514.2 L2343.0 1511.9"/>
</g>
<rect x="1845.5" y="62" width="466.5" height="687" fill="#fff" stroke="#000" stroke-width="4"/>
<g stroke-width="11.5" stroke-linecap="round" fill="none">
<line x1="1871.5" y1="137.5" x2="2118.5" y2="137.5" stroke="#000000"/>
<line x1="1871.5" y1="274.6" x2="2118.5" y2="274.6" stroke="#ff0000"/>
<line x1="1871.5" y1="411.7" x2="2118.5" y2="411.7" stroke="#0000ff"/>
<line x1="1871.5" y1="548.8" x2="2118.5" y2="548.8" stroke="#ff00ff"/>
<line x1="1871.5" y1="685.9" x2="2118.5" y2="685.9" stroke="#008000"/>
</g>
<text transform="translate(2143.40 173.00) scale(0.9826 1.0000)" x="0.00 58.31 113.17" y="0" font-size="114.50">30°</text>
<text transform="translate(2143.40 310.10) scale(0.9826 1.0000)" x="0.00 58.31 113.17" y="0" font-size="114.50">40°</text>
<text transform="translate(2143.40 447.20) scale(0.9826 1.0000)" x="0.00 58.31 113.17" y="0" font-size="114.50">50°</text>
<text transform="translate(2143.40 584.30) scale(0.9826 1.0000)" x="0.00 58.31 113.17" y="0" font-size="114.50">60°</text>
<text transform="translate(2143.40 721.40) scale(0.9826 1.0000)" x="0.00 58.31 113.17" y="0" font-size="114.50">70°</text>
<text transform="translate(210.30 1515.30) scale(0.9800 1.0000)" x="0.00 46.94 70.41 117.35" y="0" font-size="96.30">0.00</text>
<text transform="translate(210.30 937.10) scale(0.9800 1.0000)" x="0.00 46.94 70.41 117.35" y="0" font-size="96.30">0.01</text>
<text transform="translate(210.30 358.90) scale(0.9800 1.0000)" x="0.00 46.94 70.41 117.35" y="0" font-size="96.30">0.02</text>
<text transform="translate(348.00 1607.60) scale(0.9800 1.0000)" x="0.00 46.94 93.88" y="0" font-size="96.30">400</text>
<text transform="translate(988.17 1607.60) scale(0.9800 1.0000)" x="0.00 46.94 93.88" y="0" font-size="96.30">500</text>
<text transform="translate(1628.33 1607.60) scale(0.9800 1.0000)" x="0.00 46.94 93.88" y="0" font-size="96.30">600</text>
<text transform="translate(2268.50 1607.60) scale(0.9800 1.0000)" x="0.00 46.94 93.88" y="0" font-size="96.30">700</text>
<text y="1797.3" font-size="132"><tspan x="902.7" textLength="657.2" lengthAdjust="spacingAndGlyphs">Wavelength</tspan> <tspan x="1591.9" textLength="260.3" lengthAdjust="spacingAndGlyphs">(nm)</tspan></text>
<text transform="translate(131.3 1294.8) rotate(-90)" y="0" font-size="131"><tspan x="0" textLength="623.2" lengthAdjust="spacingAndGlyphs">Reflectance</tspan> <tspan x="657.1" textLength="182.2" lengthAdjust="spacingAndGlyphs">(%)</tspan></text>
</svg>
</body></html>
